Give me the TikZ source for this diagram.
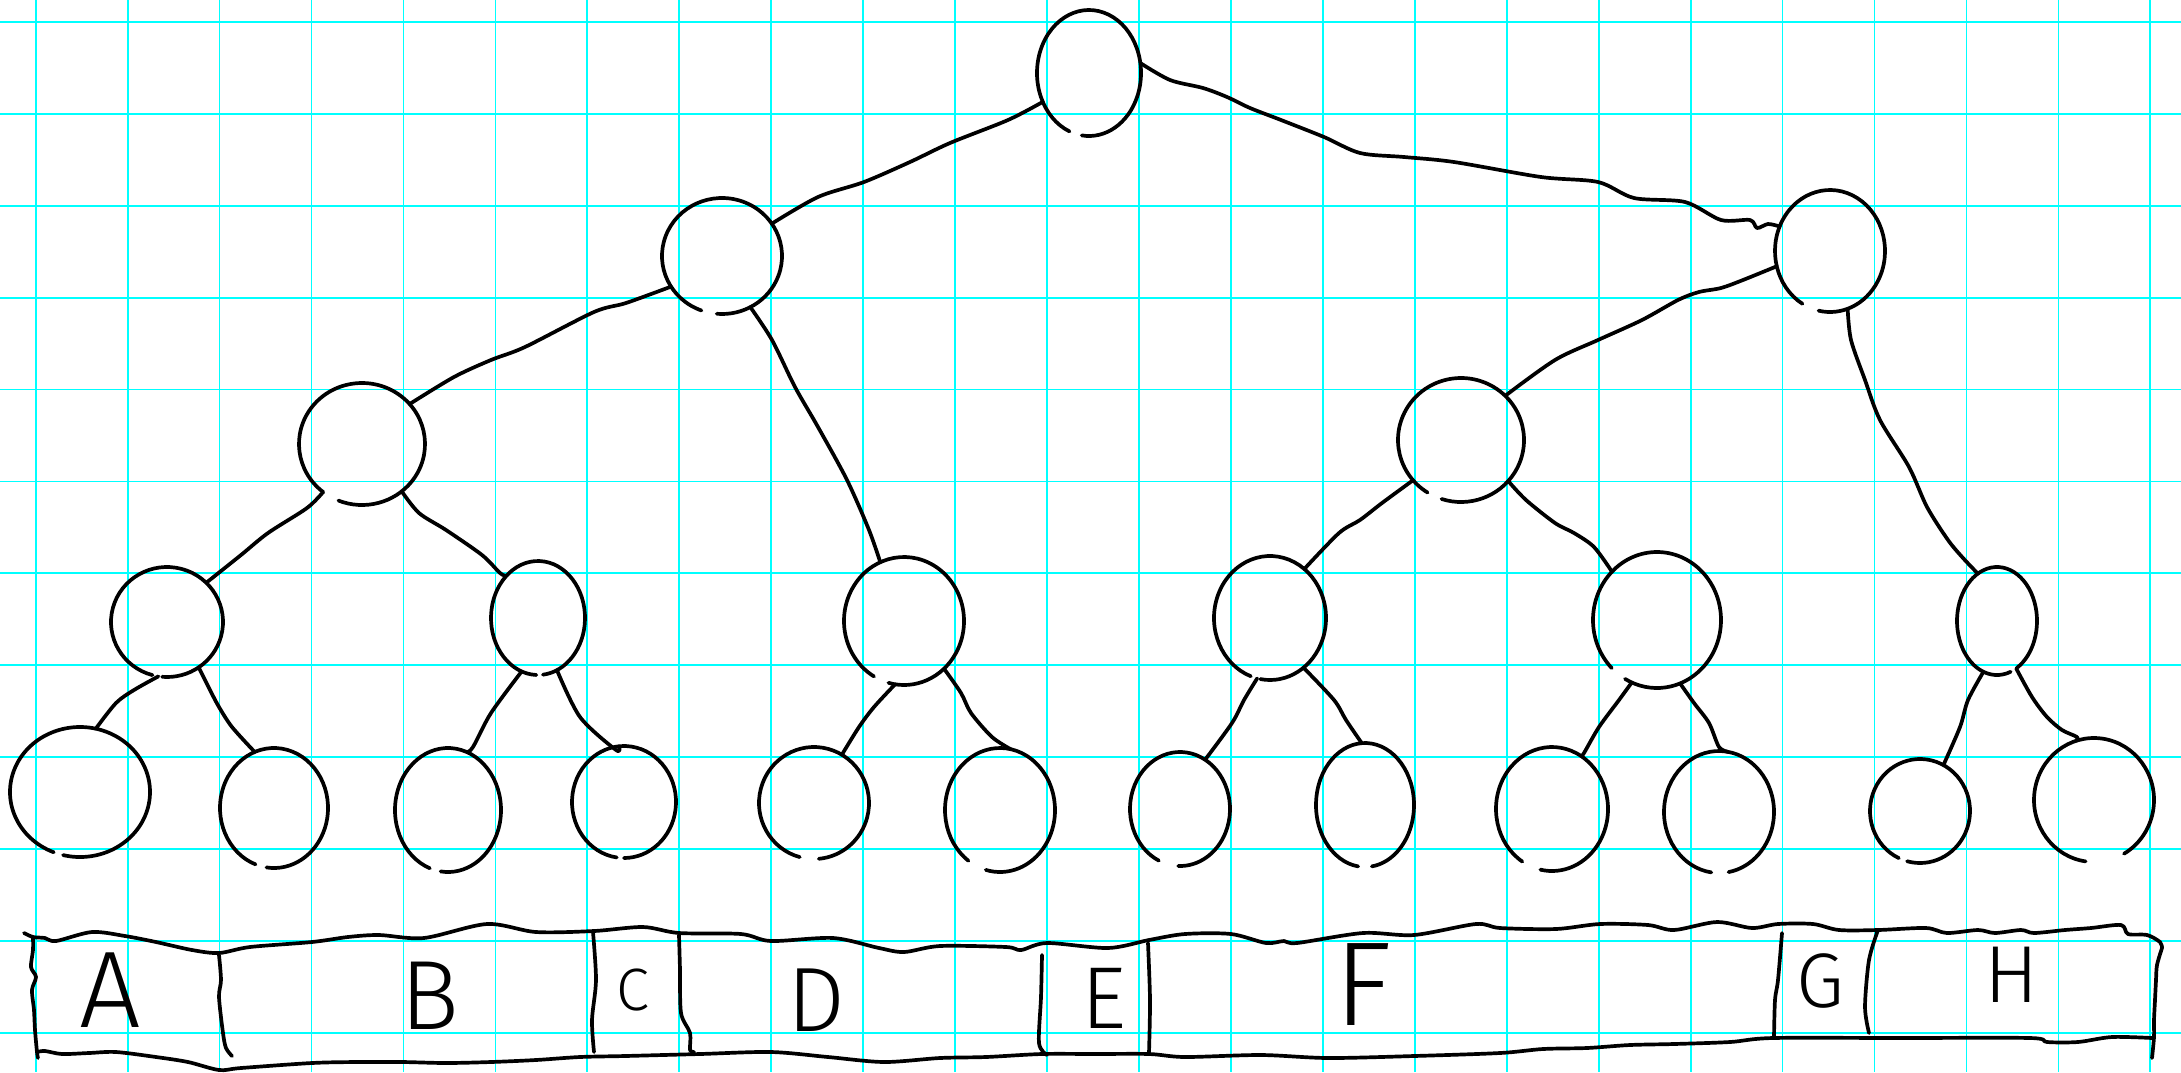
\documentclass[tikz,border=0pt]{standalone}
\usepackage{fontspec}
\newfontfamily\hand{Fira Sans Light}
\usetikzlibrary{shapes.geometric}
\definecolor{gridcyan}{RGB}{0,255,255}
\tikzset{
  ink/.style={line width=1.05pt, line cap=round, line join=round, black},
  gridline/.style={line width=0.5pt, gridcyan},
  blob/.style={ellipse, inner sep=0pt, outer sep=0pt},
  letter/.style={inner sep=0pt, text=black},
}
% #1 name, #2 x, #3 y, #4 x radius, #5 y radius, #6/#7 gap in the outline (screen angles)
\newcommand\ringnode[7]{%
  \node[blob, minimum width={2*#4*0.01cm}, minimum height={2*#5*0.01cm}] (#1) at (#2,#3) {};
  \draw[ink] (#2,#3) ++({-(#6)}:#4 and #5)
    arc[start angle={-(#6)}, end angle={360-(#7)}, x radius=#4, y radius=#5];
}
\newcommand\lettersize[1]{\hand\fontsize{#1pt}{#1pt}\selectfont}
\begin{document}
\begin{tikzpicture}[x=0.01cm, y=-0.01cm]
\useasboundingbox (0,0) rectangle (2181,1072);
\fill[white] (0,0) rectangle (2181,1072);

% squared paper
\foreach \k in {0,...,23} \draw[gridline] ({35.7+91.94*\k},0) -- ++(0,1072);
\foreach \k in {0,...,11} \draw[gridline] (0,{22+91.88*\k}) -- ++(2181,0);

% tree nodes
\ringnode{root}{1089}{73}{52}{63}{248}{262}
\ringnode{La}{722}{256}{60}{58}{250}{265}
\ringnode{Lb}{1830}{251}{55}{61}{240}{258}
\ringnode{Ma}{362}{444}{63}{61}{232}{248}
\ringnode{Mb}{1461}{440}{63}{62}{238}{252}
\ringnode{n1}{167}{622}{56}{55}{255}{265}
\ringnode{n2}{538}{618}{47}{57}{268}{276}
\ringnode{n3}{904}{621}{60}{64}{240}{255}
\ringnode{n4}{1270}{618}{56}{62}{250}{260}
\ringnode{n5}{1657}{620}{64}{68}{225}{240}
\ringnode{n6}{1997}{621}{40}{54}{290}{300}
\ringnode{l1}{80}{792}{70}{65}{248}{256}
\ringnode{l2}{274}{808}{54}{60}{250}{262}
\ringnode{l3}{448}{810}{53}{62}{250}{262}
\ringnode{l4}{624}{802}{52}{56}{262}{270}
\ringnode{l5}{814}{803}{55}{56}{255}{275}
\ringnode{l6}{1000}{810}{55}{62}{235}{255}
\ringnode{l7}{1180}{809}{50}{57}{245}{268}
\ringnode{l8}{1365}{805}{49}{62}{262}{278}
\ringnode{l9}{1552}{809}{56}{62}{238}{258}
\ringnode{l10}{1719}{812}{55}{61}{262}{280}
\ringnode{l11}{1920}{811}{50}{52}{245}{255}
\ringnode{l12}{2094}{800}{60}{62}{262}{300}

% connectors
\draw[ink] plot[smooth] coordinates {(root.212) (1008,120) (950,143) (910,162) (864,182) (818,197) (La.33)};
\draw[ink] plot[smooth] coordinates {(root.11) (1170,80) (1203,88) (1227,97) (1250,108) (1281,120) (1324,137) (1360,153) (1404,157) (1454,162) (1541,177) (1598,182) (1634,198) (1685,202) (1721,220) (1750,220) (1757,228) (1768,224) (Lb.154)};
\draw[ink] plot[smooth] coordinates {(La.211) (626,303) (594,312) (525,347) (491,360) (454,377) (Ma.40)};
\draw[ink] plot[smooth] coordinates {(La.299) (772,340) (795,387) (818,427) (847,480) (869,530) (n3.112)};
\draw[ink] plot[smooth] coordinates {(Lb.196) (1743,280) (1721,288) (1699,292) (1678,300) (1642,320) (1598,340) (1555,360) (Mb.45)};
\draw[ink] plot[smooth] coordinates {(Lb.287) (1851,340) (1865,380) (1880,420) (1909,467) (1927,507) (1948,540) (1963,558) (n6.112)};
\draw[ink] plot[smooth] coordinates {(Ma.231) (307,508) (268,533) (241,555) (n1.45)};
\draw[ink] plot[smooth] coordinates {(Ma.310) (419,513) (446,530) (482,555) (500,573) (n2.127)};
\draw[ink] plot[smooth] coordinates {(Mb.220) (1382,503) (1360,520) (1339,533) (n4.55)};
\draw[ink] plot[smooth] coordinates {(Mb.319) (1526,500) (1555,523) (1574,533) (1594,547) (n5.133)};
\draw[ink] plot[smooth] coordinates {(n1.261) (134,690) (116,703) (l1.76)};
\draw[ink] plot[smooth] coordinates {(n1.305) (210,690) (219,707) (232,727) (l2.109)};
\draw[ink] plot[smooth] coordinates {(n2.253) (491,713) (473,747) (l3.72)};
\draw[ink] plot[smooth] coordinates {(n2.290) (580,717) (616,750) (l4.95)};
\draw[ink] plot[smooth] coordinates {(n3.262) (874,707) (859,727) (l5.60)};
\draw[ink] plot[smooth] coordinates {(n3.310) (961,693) (971,713) (992,737) (l6.80)};
\draw[ink] plot[smooth] coordinates {(n4.258) (1244,700) (1232,723) (l7.63)};
\draw[ink] plot[smooth] coordinates {(n4.304) (1334,700) (1346,720) (l8.93)};
\draw[ink] plot[smooth] coordinates {(n5.248) (1619,700) (1599,727) (1584,753) (l9.61)};
\draw[ink] plot[smooth] coordinates {(n5.290) (1694,703) (1709,723) (1719,747) (l10.81)};
\draw[ink] plot[smooth] coordinates {(n6.255) (1968,700) (1960,727) (l11.63)};
\draw[ink] plot[smooth] coordinates {(n6.292) (2032,697) (2047,717) (2062,730) (2077,737) (l12.107)};

% array of cells
\draw[ink] plot[smooth] coordinates {(24,933) (33,937) (45,938) (56,941) (92,932) (125,936) (156,942) (192,950) (219,953) (250,947) (312,942) (348,937) (379,935) (424,938) (487,924) (536,932) (594,931) (643,927) (679,933) (741,934) (771,941) (833,938) (879,948) (904,952) (940,946) (1006,947) (1021,950) (1047,943) (1108,948) (1149,940) (1185,934) (1231,934) (1266,943) (1284,941) (1297,943) (1363,933) (1414,935) (1476,924) (1500,928) (1556,929) (1600,924) (1648,925) (1674,930) (1717,922) (1752,928) (1778,924) (1813,924) (1839,930) (1878,930) (1926,928) (1947,933) (1978,930) (1995,933) (2021,930) (2034,933) (2065,930) (2091,928) (2121,925) (2128,934) (2147,935) (2160,942) (2162,948)};
\draw[ink] plot[smooth] coordinates {(2162,948) (2157,965) (2156,980) (2155,1000) (2154,1020) (2154,1037) (2152,1058)};
\draw[ink] plot[smooth] coordinates {(33,937) (33,950) (31,967) (36,977) (32,990) (34,1010) (35,1030) (37,1052) (38,1058)};
\draw[ink] plot[smooth] coordinates {(37,1052) (45,1051) (62,1054) (89,1053) (116,1052) (156,1057) (188,1062) (219,1070) (241,1068) (312,1063) (357,1062) (402,1062) (446,1063) (491,1062) (536,1060) (580,1057) (625,1056) (700,1054) (771,1052) (828,1057) (884,1062) (940,1058) (986,1057) (1042,1054) (1095,1054) (1149,1054) (1185,1057) (1261,1055) (1328,1058) (1414,1056) (1500,1053) (1543,1049) (1587,1048) (1630,1045) (1674,1044) (1730,1042) (1773,1038) (1900,1038) (2030,1038) (2047,1042) (2078,1042) (2112,1037) (2152,1038)};
\draw[ink] plot[smooth] coordinates {(219,955) (221,980) (219,997) (223,1033) (226,1048) (232,1056)};
\draw[ink] plot[smooth] coordinates {(593,932) (596,980) (592,1020) (594,1052)};
\draw[ink] plot[smooth] coordinates {(679,935) (680,970) (681,1013) (690,1033) (690,1050) (694,1052)};
\draw[ink] plot[smooth] coordinates {(1042,955) (1041,997) (1039,1043) (1047,1055)};
\draw[ink] plot[smooth] coordinates {(1148,943) (1150,1000) (1149,1053)};
\draw[ink] plot[smooth] coordinates {(1782,933) (1778,980) (1775,1000) (1774,1037)};
\draw[ink] plot[smooth] coordinates {(1878,930) (1869,960) (1865,1007) (1869,1033)};

% cell labels
\node[letter, font=\lettersize{31}] (cA) at (110,990) {A};
\node[letter, font=\lettersize{28}] (cB) at (430,996) {B};
\node[letter, font=\lettersize{17}] (cC) at (633,990) {C};
\node[letter, font=\lettersize{26}] (cD) at (816,1000) {D};
\node[letter, font=\lettersize{25}] (cE) at (1104,998) {E};
\node[letter, font=\lettersize{34}] (cF) at (1363,985) {F};
\node[letter, font=\lettersize{22}] (cG) at (1820,981) {G};
\node[letter, font=\lettersize{23}] (cH) at (2012,975) {H};
\end{tikzpicture}
\end{document}
